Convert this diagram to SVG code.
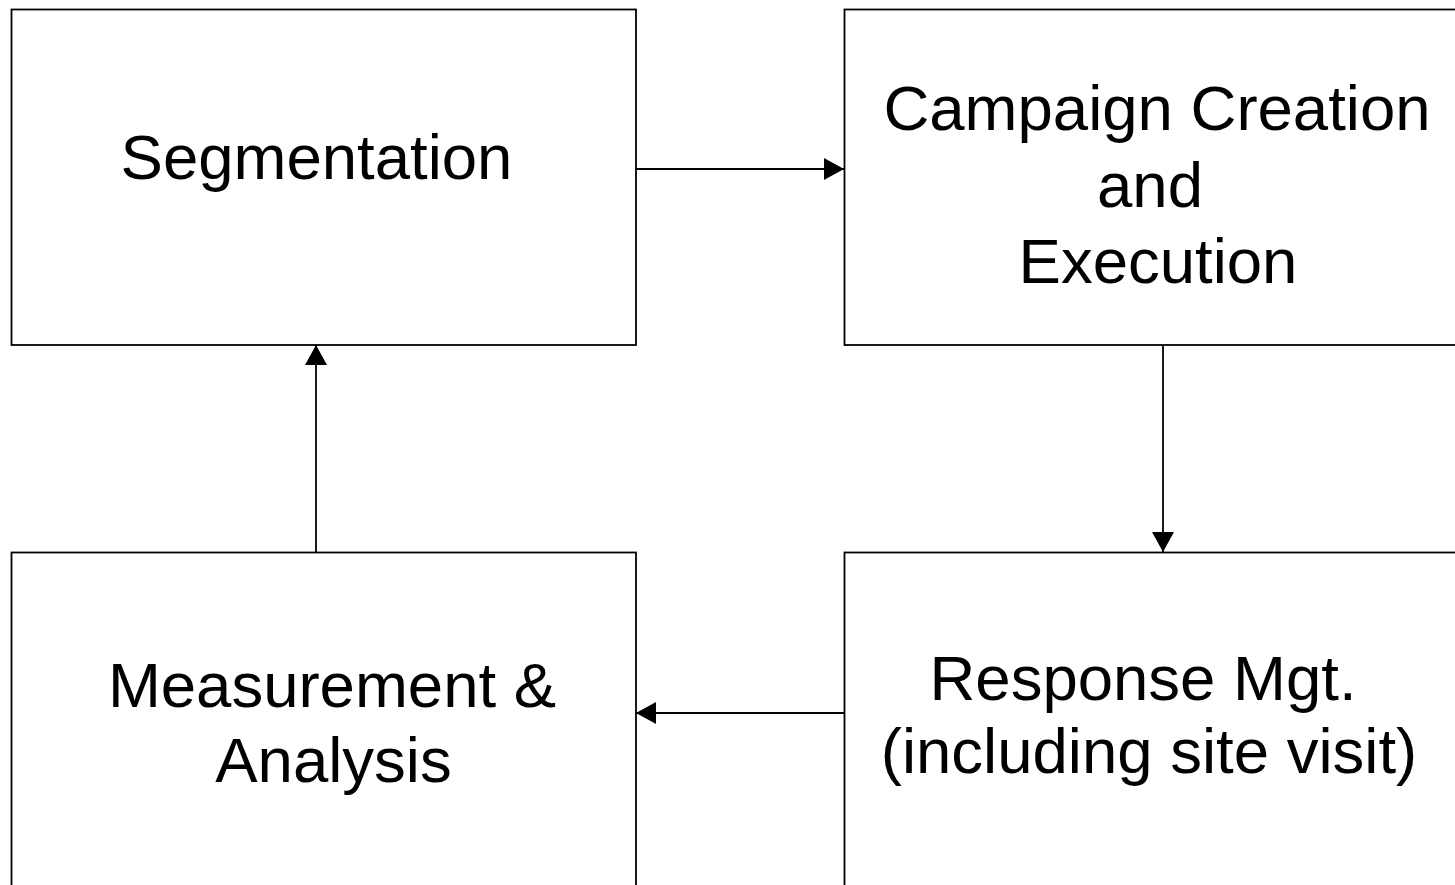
<svg xmlns="http://www.w3.org/2000/svg" width="1455" height="885" viewBox="0 0 1455 885">
  <style>
    .box { fill: #ffffff; stroke: #000000; stroke-width: 1.8; }
    .label { font-family: "Liberation Sans", Arial, sans-serif; font-size: 63.5px; fill: #000000; text-anchor: middle; }
    .edge { fill: none; stroke: #000000; stroke-width: 1.8; }
  </style>
  <defs>
    <marker id="arrow" viewBox="0 0 20 22" refX="20" refY="11" markerWidth="20" markerHeight="22" markerUnits="userSpaceOnUse" orient="auto">
      <path d="M0,0 L20,11 L0,22 Z" fill="#000000"/>
    </marker>
  </defs>
  <rect width="1455" height="885" fill="#ffffff"/>

  <g id="segmentation">
    <rect class="box" x="11.5" y="9.5" width="624.5" height="335.5"/>
    <text class="label" x="316.5" y="179">Segmentation</text>
  </g>

  <g id="campaign">
    <rect class="box" x="844.5" y="9.5" width="630" height="335.5"/>
    <text class="label" x="1157" y="130">Campaign Creation</text>
    <text class="label" x="1150" y="207">and</text>
    <text class="label" x="1158" y="283">Execution</text>
  </g>

  <g id="response">
    <rect class="box" x="844.5" y="552.5" width="630" height="350"/>
    <text class="label" x="1143" y="700">Response Mgt.</text>
    <text class="label" x="1149" y="773">(including site visit)</text>
  </g>

  <g id="measurement">
    <rect class="box" x="11.5" y="552.5" width="624.5" height="350"/>
    <text class="label" x="332" y="707">Measurement &amp;</text>
    <text class="label" x="333.5" y="782">Analysis</text>
  </g>

  <g id="connectors">
    <line class="edge" x1="636" y1="169" x2="844" y2="169" marker-end="url(#arrow)"/>
    <line class="edge" x1="1163" y1="345" x2="1163" y2="552" marker-end="url(#arrow)"/>
    <line class="edge" x1="844" y1="713" x2="636" y2="713" marker-end="url(#arrow)"/>
    <line class="edge" x1="316" y1="552" x2="316" y2="345" marker-end="url(#arrow)"/>
  </g>
</svg>
